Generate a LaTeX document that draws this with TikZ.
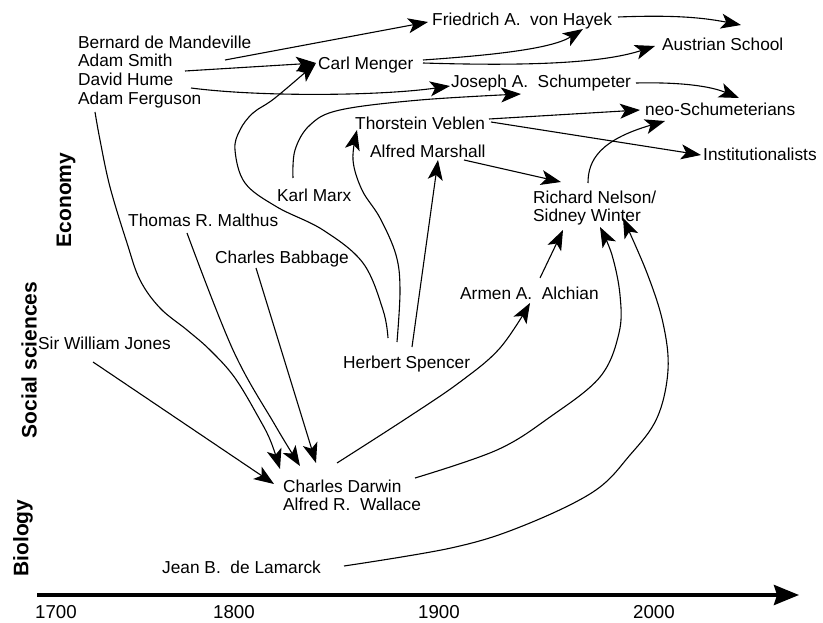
\documentclass[tikz,border=0pt]{standalone}
\usepackage{fontspec}
\setmainfont{Liberation Sans}
\usetikzlibrary{arrows.meta}
\begin{document}
\begin{tikzpicture}[x=1pt,y=-1pt,
  lbl/.style={inner sep=0pt, anchor=base west, font=\fontsize{17.3}{18.7}\selectfont},
  mlbl/.style={inner sep=0pt, anchor=north west, align=left, font=\fontsize{17.3}{18.7}\selectfont},
  field/.style={inner sep=0pt, rotate=90, font=\fontsize{21}{24}\selectfont\bfseries},
  yearlbl/.style={inner sep=0pt, anchor=base west, font=\fontsize{18.7}{20}\selectfont},
  conn/.style={line width=1.1pt, line join=round, -{Stealth[length=20pt,width=15pt,inset=5pt]}},
  axisline/.style={line width=3.5pt, -{Stealth[length=25pt,width=20pt,inset=3pt]}},
  ]
\useasboundingbox (0,0) rectangle (823,623);

% field labels
\node[field] (eco) at (66,200) {Economy};
\node[field] (soc) at (29,360) {Social sciences};
\node[field] (bio) at (23,538) {Biology};

% names
\node[mlbl] (brit) at (78,35.5) {Bernard de Mandeville\\Adam Smith\\David Hume\\Adam Ferguson};
\node[lbl] (hayek) at (432,26) {Friedrich A.\ \ von Hayek};
\node[lbl] (menger) at (318,70) {Carl Menger};
\node[lbl] (austrian) at (662,51) {Austrian School};
\node[lbl] (schump) at (451,88) {Joseph A.\ \ Schumpeter};
\node[lbl] (neo) at (645,116) {neo-Schumeterians};
\node[lbl] (veblen) at (355,130) {Thorstein Veblen};
\node[lbl] (inst) at (703,161) {Institutionalists};
\node[lbl] (marshall) at (370,158) {Alfred Marshall};
\node[lbl] (marx) at (277,202) {Karl Marx};
\node[mlbl] (nelson) at (533,190.5) {Richard Nelson/\\Sidney Winter};
\node[lbl] (malthus) at (128,226) {Thomas R. Malthus};
\node[lbl] (babbage) at (215,264) {Charles Babbage};
\node[lbl] (alchian) at (460,299) {Armen A.\ \ Alchian};
\node[lbl] (jones) at (38,349) {Sir William Jones};
\node[lbl] (spencer) at (343,368) {Herbert Spencer};
\node[mlbl] (darwin) at (283,479.5) {Charles Darwin\\Alfred R.\ \ Wallace};
\node[lbl] (lamarck) at (162,573) {Jean B.\ \ de Lamarck};

% years and axis
\node[yearlbl] (y1700) at (35,618) {1700};
\node[yearlbl] (y1800) at (213,618) {1800};
\node[yearlbl] (y1900) at (418,618) {1900};
\node[yearlbl] (y2000) at (633,618) {2000};
\coordinate (axisA) at (37,595);
\coordinate (axisB) at (799,595);
\draw[axisline] (axisA) -- (axisB);

% connector end points
\coordinate (britA) at (225,60);
\coordinate (britB) at (185,71);
\coordinate (britC) at (191,88);
\coordinate (britD) at (95,112);
\coordinate (hayekIn) at (428,22);
\coordinate (mengerIn) at (316,63);
\coordinate (schumpIn) at (450,86);
\coordinate (mengerA) at (423,60);
\coordinate (mengerB) at (423,63);
\coordinate (hayekIn2) at (583,29);
\coordinate (austrianIn) at (655,46);
\coordinate (hayekOut) at (618,17);
\coordinate (hayekFree) at (741,25);
\coordinate (schumpOut) at (636,83);
\coordinate (schumpFree) at (739,98);
\coordinate (marxOut) at (293,178);
\coordinate (schumpIn2) at (521,94);
\coordinate (veblenA) at (489,119);
\coordinate (veblenB) at (491,122);
\coordinate (neoIn) at (640,110);
\coordinate (instIn) at (701,155);
\coordinate (marshallOut) at (464,160);
\coordinate (nelsonIn) at (561,182);
\coordinate (nelsonOut) at (588,183);
\coordinate (neoIn2) at (665,121);
\coordinate (spencerA) at (388,338);
\coordinate (spencerB) at (397,342);
\coordinate (spencerC) at (412,347);
\coordinate (veblenIn) at (357,130);
\coordinate (marshallIn) at (438,160);
\coordinate (darwinA) at (337,463);
\coordinate (darwinB) at (415,478);
\coordinate (alchianIn) at (530,303);
\coordinate (alchianOut) at (540,278);
\coordinate (nelsonIn2) at (563,230);
\coordinate (nelsonIn3) at (600,227);
\coordinate (nelsonIn4) at (623,218);
\coordinate (lamarckOut) at (344,566);
\coordinate (jonesOut) at (93,362);
\coordinate (malthusOut) at (187,233);
\coordinate (babbageOut) at (256,268);
\coordinate (darwinIn1) at (280,469);
\coordinate (darwinIn2) at (300,466);
\coordinate (darwinIn3) at (316,463);
\coordinate (darwinIn4) at (274,484);

% connectors
\draw[conn] (britA) -- (hayekIn);
\draw[conn] (britB) -- (mengerIn);
\draw[conn] (britC) .. controls (260,97) and (380,96) .. (schumpIn);
\draw[conn] (mengerA) .. controls (480,56) and (550,50) .. (hayekIn2);
\draw[conn] (mengerB) .. controls (520,66) and (600,64) .. (austrianIn);
\draw[conn] (hayekOut) .. controls (670,15) and (700,17) .. (hayekFree);
\draw[conn] (schumpOut) .. controls (680,82) and (710,86) .. (schumpFree);
\draw[conn] plot[smooth,tension=0.6] coordinates {(marxOut) (295,150) (310,125) (340,110) (420,100) (schumpIn2)};
\draw[conn] (veblenA) -- (neoIn);
\draw[conn] (veblenB) -- (instIn);
\draw[conn] (marshallOut) -- (nelsonIn);
\draw[conn] (nelsonOut) .. controls (588,160) and (600,140) .. (neoIn2);
\draw[conn] plot[smooth,tension=0.6] coordinates {(spencerA) (383,310) (363,263) (323,230) (277,207) (245,183) (235,150) (240,130) (253,113) (275,98) (mengerIn)};
\draw[conn] plot[smooth,tension=0.6] coordinates {(spencerB) (400,290) (396,255) (380,218) (362,190) (353,160) (veblenIn)};
\draw[conn] (spencerC) -- (marshallIn);
\draw[conn] plot[smooth,tension=0.6] coordinates {(darwinA) (407,418) (460,382) (500,348) (alchianIn)};
\draw[conn] (alchianOut) -- (nelsonIn2);
\draw[conn] plot[smooth,tension=0.6] coordinates {(darwinB) (497,450) (550,417) (600,377) (619,333) (620,295) (612,255) (nelsonIn3)};
\draw[conn] plot[smooth,tension=0.6] coordinates {(lamarckOut) (451,548) (520,527) (593,492) (630,455) (657,418) (668,370) (663,323) (647,273) (nelsonIn4)};
\draw[conn] (jonesOut) -- (darwinIn4);
\draw[conn] plot[smooth,tension=0.6] coordinates {(britD) (100,140) (110,187) (127,243) (140,280) (160,308) (187,330) (210,350) (235,378) (260,420) (271,442) (darwinIn1)};
\draw[conn] plot[smooth,tension=0.6] coordinates {(malthusOut) (233,350) (275,425) (darwinIn2)};
\draw[conn] (babbageOut) -- (darwinIn3);
\end{tikzpicture}
\end{document}
